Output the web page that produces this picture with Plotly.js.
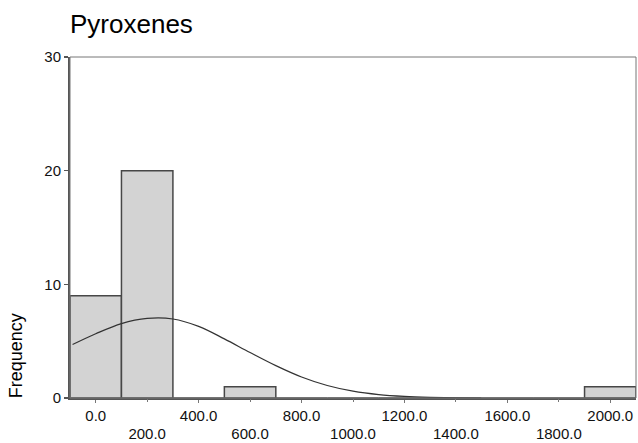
<!DOCTYPE html>
<html>
<head>
<meta charset="utf-8">
<script src="https://cdn.plot.ly/plotly-3.0.1.min.js"></script>
<style>
  html, body { margin: 0; padding: 0; background: #fff; }
  #chart { width: 638px; height: 443px; }
</style>
</head>
<body>
<div id="chart"></div>
<script>
// Histogram bins (centres) and counts
const binCenters = [0, 200, 400, 600, 800, 1000, 1200, 1400, 1600, 1800, 2000];
const counts     = [9, 20, 0, 1, 0, 0, 0, 0, 0, 0, 1];

// Fitted normal curve
const curveX = [-90, 0, 100, 200, 300, 400, 500, 600, 700, 800, 900, 1000, 1100, 1200, 1300, 1400, 1500];
const curveY = [4.7, 5.65, 6.55, 7.0, 6.95, 6.3, 5.2, 4.0, 2.85, 1.85, 1.1, 0.6, 0.3, 0.14, 0.06, 0.02, 0.0];

// Tick labels (two staggered rows)
const tickRow1Vals = [0, 400, 800, 1200, 1600, 2000];
const tickRow1Text = ["0.0", "400.0", "800.0", "1200.0", "1600.0", "2000.0"];
const tickRow2Vals = [200, 600, 1000, 1400, 1800];
const tickRow2Text = ["200.0", "600.0", "1000.0", "1400.0", "1800.0"];
const yTickVals = [0, 10, 20, 30];

const chartTitle = "Pyroxenes";
const yLabel = "Frequency";

const font = "Arial, 'Liberation Sans', sans-serif";

const traces = [
  {
    type: "bar",
    x: binCenters,
    y: counts,
    width: 200,
    marker: { color: "#d3d3d3", line: { color: "#474747", width: 1.5 } },
    hoverinfo: "x+y"
  },
  {
    type: "scatter",
    mode: "lines",
    x: curveX,
    y: curveY,
    line: { color: "#333333", width: 1.2, shape: "spline", smoothing: 1 },
    hoverinfo: "skip"
  },
  {
    // empty trace so the second (staggered-label) x axis is drawn
    type: "scatter", mode: "lines", x: [], y: [],
    xaxis: "x2", yaxis: "y", hoverinfo: "skip"
  }
];

const layout = {
  width: 638,
  height: 443,
  margin: { l: 70, r: 2, t: 57, b: 45 },
  paper_bgcolor: "#ffffff",
  plot_bgcolor: "#ffffff",
  showlegend: false,
  bargap: 0,
  font: { family: font, color: "#111" },
  title: {
    text: chartTitle,
    font: { family: font, size: 26, color: "#000" },
    xref: "paper", x: 0, xanchor: "left",
    yref: "container", y: 0.947, yanchor: "middle"
  },
  xaxis: {
    range: [-100, 2100],
    tickmode: "array",
    tickvals: tickRow1Vals,
    ticktext: tickRow1Text,
    ticks: "outside", ticklen: 3, tickwidth: 1, tickcolor: "#777",
    tickfont: { family: font, size: 15, color: "#111" },
    showline: true, linecolor: "#555", linewidth: 1.5,
    showgrid: false, zeroline: false, fixedrange: true
  },
  xaxis2: {
    overlaying: "x", anchor: "y", side: "bottom",
    range: [-100, 2100],
    tickmode: "array",
    tickvals: tickRow2Vals,
    ticktext: tickRow2Text,
    ticks: "outside", ticklen: 3, tickwidth: 1, tickcolor: "#777",
    ticklabelstandoff: 19,
    tickfont: { family: font, size: 15, color: "#111" },
    showline: false, showgrid: false, zeroline: false, fixedrange: true
  },
  yaxis: {
    range: [0, 30],
    tickmode: "array",
    tickvals: yTickVals,
    ticks: "outside", ticklen: 4, tickwidth: 1.5, tickcolor: "#555",
    tickfont: { family: font, size: 15, color: "#111" },
    showline: true, linecolor: "#555", linewidth: 2,
    showgrid: false, zeroline: false, fixedrange: true
  },
  shapes: [
    { type: "rect", xref: "paper", yref: "paper", x0: 0, x1: 1, y0: 0, y1: 1,
      line: { color: "#777", width: 1 }, layer: "above" }
  ],
  annotations: [
    { text: yLabel, xref: "paper", yref: "paper", x: -0.094, y: 0.125,
      xanchor: "center", yanchor: "middle", textangle: -90, showarrow: false,
      font: { family: font, size: 18, color: "#000" } }
  ]
};

Plotly.newPlot("chart", traces, layout, { displayModeBar: false, staticPlot: true });
</script>
</body>
</html>
